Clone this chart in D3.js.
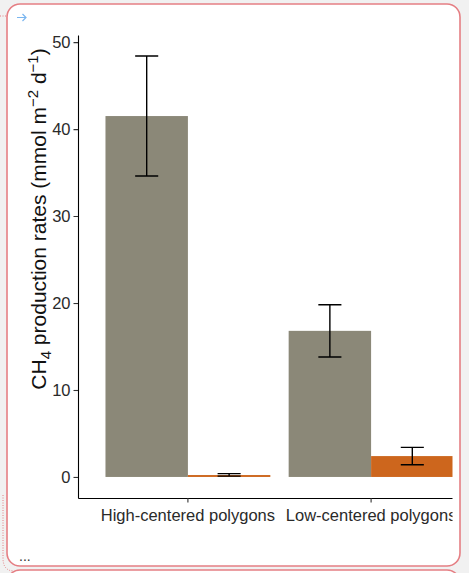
<!DOCTYPE html>
<html>
<head>
<meta charset="utf-8">
<script src="https://cdn.jsdelivr.net/npm/d3@7"></script>
<style>
  html, body { margin: 0; padding: 0; background: #f1f1f1; }
  svg { display: block; }
  text { font-family: "Liberation Sans", Arial, Helvetica, sans-serif; }
</style>
</head>
<body>
<svg id="chart" width="469" height="573"></svg>
<script>
// Polygon types on the x axis
const categories = ["High-centered polygons", "Low-centered polygons"];
// Two bars per polygon type
const seriesKeys = ["grey", "orange"];
const seriesColors = ["#8b8878", "#cd661d"];
// Mean CH4 production rates (mmol m-2 d-1)
const greyMeans = [41.5, 16.8];
const orangeMeans = [0.22, 2.4];
// Lower / upper ends of the error bars
const greyLower = [34.6, 13.8];
const greyUpper = [48.4, 19.8];
const orangeLower = [0.1, 1.4];
const orangeUpper = [0.38, 3.4];
// Y tick values
const yTicks = [0, 10, 20, 30, 40, 50];

const rows = [];
categories.forEach((c, i) => {
  rows.push({ cat: c, key: "grey", mean: greyMeans[i], lo: greyLower[i], hi: greyUpper[i] });
  rows.push({ cat: c, key: "orange", mean: orangeMeans[i], lo: orangeLower[i], hi: orangeUpper[i] });
});

const svg = d3.select("#chart");

// card frame
svg.append("rect").attr("x", 7).attr("y", 4).attr("width", 453).attr("height", 562)
  .attr("rx", 13).attr("fill", "#ffffff").attr("stroke", "#e57f84").attr("stroke-width", 1.6);
svg.append("rect").attr("x", 7).attr("y", 570).attr("width", 453).attr("height", 40)
  .attr("rx", 13).attr("fill", "#ffffff").attr("stroke", "#e57f84").attr("stroke-width", 1.6);
svg.append("path").attr("d", "M0,16H7").attr("stroke", "#e57f84").attr("stroke-width", 1)
  .attr("stroke-dasharray", "1,1.5").attr("fill", "none");
svg.append("path").attr("d", "M3,495V558Q3,571 14,571").attr("stroke", "#e57f84").attr("stroke-width", 1)
  .attr("stroke-dasharray", "1,1.5").attr("fill", "none");
// small link arrow in the card corner
svg.append("path").attr("d", "M17,17.5H26M22.5,14L26,17.5L22.5,21")
  .attr("stroke", "#7ab6f0").attr("stroke-width", 1.2).attr("fill", "none");
svg.append("text").attr("x", 19).attr("y", 561).attr("font-size", 14).attr("fill", "#333").text("...");

// chart area, clipped to the card's content box
svg.append("clipPath").attr("id", "content").append("rect")
  .attr("x", 8).attr("y", 5).attr("width", 444.5).attr("height", 560);
const g = svg.append("g").attr("clip-path", "url(#content)");

const plotLeft = 78, plotRight = 481, plotTop = 35, plotBottom = 498;

const yMax = d3.max(rows, d => d.hi);
const pad = yMax * 0.05;
const y = d3.scaleLinear().domain([-pad, yMax + pad]).range([plotBottom, plotTop]);

const x = d3.scaleBand().domain(categories).range([plotLeft, plotRight])
  .paddingInner(0.1).paddingOuter(0.15);
const xs = d3.scaleBand().domain(seriesKeys).range([0, x.bandwidth()]);
const color = d3.scaleOrdinal().domain(seriesKeys).range(seriesColors);

// bars
g.append("g").selectAll("rect").data(rows).join("rect")
  .attr("x", d => x(d.cat) + xs(d.key))
  .attr("width", xs.bandwidth())
  .attr("y", d => y(Math.max(0, d.mean)))
  .attr("height", d => Math.abs(y(0) - y(d.mean)))
  .attr("fill", d => color(d.key));

// error bars
const capHalf = xs.bandwidth() * 0.14;
const eb = g.append("g").attr("stroke", "#000").attr("stroke-width", 1.4).attr("fill", "none");
eb.selectAll("path").data(rows).join("path")
  .attr("d", d => {
    const cx = x(d.cat) + xs(d.key) + xs.bandwidth() / 2;
    const y0 = y(d.lo), y1 = y(d.hi);
    return `M${cx - capHalf},${y1}H${cx + capHalf}M${cx},${y1}V${y0}M${cx - capHalf},${y0}H${cx + capHalf}`;
  });

// axes
const yAxis = g.append("g").attr("transform", `translate(${plotLeft},0)`)
  .call(d3.axisLeft(y).tickValues(yTicks).tickSize(4.5).tickSizeOuter(0).tickPadding(3));
const xAxis = g.append("g").attr("transform", `translate(0,${plotBottom})`)
  .call(d3.axisBottom(x).tickSize(4.5).tickSizeOuter(0).tickPadding(3));

[yAxis, xAxis].forEach(a => {
  a.select(".domain").attr("stroke", "#000").attr("stroke-width", 1.1);
  a.selectAll(".tick line").attr("stroke", "#333").attr("stroke-width", 1.1);
  a.selectAll(".tick text").attr("fill", "#2a2a2a").attr("font-size", 16.5)
    .attr("font-family", "'Liberation Sans', Arial, sans-serif");
});
xAxis.selectAll(".tick text").attr("dy", "0.92em");

// y axis title with subscript and superscripts
const title = g.append("text")
  .attr("transform", "translate(46,219) rotate(-90)")
  .attr("text-anchor", "middle")
  .attr("font-size", 21)
  .attr("fill", "#111");
title.append("tspan").text("CH");
title.append("tspan").attr("font-size", 15).attr("dy", 5).text("4");
title.append("tspan").attr("dy", -5).text(" production rates (mmol m");
title.append("tspan").attr("font-size", 15).attr("dy", -8).text("−2");
title.append("tspan").attr("dy", 8).text(" d");
title.append("tspan").attr("font-size", 15).attr("dy", -8).text("−1");
title.append("tspan").attr("dy", 8).text(")");
</script>
</body>
</html>
